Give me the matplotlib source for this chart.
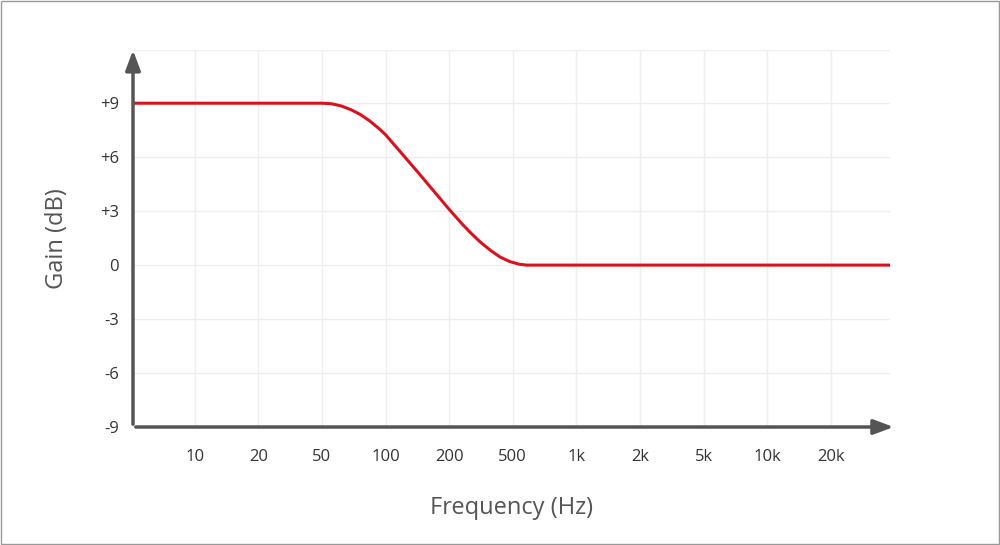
import matplotlib.pyplot as plt

freq_labels = ['10', '20', '50', '100', '200', '500', '1k', '2k', '5k', '10k', '20k']
gain_ticks = [-9, -6, -3, 0, 3, 6, 9]
gain_labels = ['-9', '-6', '-3', '0', '+3', '+6', '+9']

# curve (x in tick-index units)
curve_x = [-0.97, 2.0, 2.15, 2.3, 2.45, 2.6, 2.75, 2.9, 3.0, 3.5, 4.0, 4.2, 4.35, 4.5,
           4.65, 4.8, 4.95, 5.1, 5.22, 10.93]
curve_y = [9, 9, 8.97, 8.85, 8.65, 8.38, 8.02, 7.58, 7.25, 5.2, 3.1, 2.3, 1.75, 1.25,
           0.82, 0.45, 0.2, 0.05, 0, 0]

plt.rcParams['font.family'] = 'Open Sans'
fig = plt.figure(figsize=(10, 5.45), dpi=100)
fig.patches.append(plt.Rectangle((0.001, 0.001), 0.998, 0.998, transform=fig.transFigure,
                                 fill=False, edgecolor='#999999', lw=1))
ax = fig.add_axes([0.133, 0.2165, 0.757, 0.6915])
xmin, xmax = -0.97, 10.93
ymin, ymax = -9, 11.95
ax.set_xlim(xmin, xmax)
ax.set_ylim(ymin, ymax)

for i in range(len(freq_labels)):
    ax.axvline(i, color='#eeeeee', lw=1, zorder=0)
for g in gain_ticks[1:] + [ymax]:
    ax.axhline(g, color='#eeeeee', lw=1, zorder=0)

ax.plot(curve_x, curve_y, color='#d9121f', lw=2.2, zorder=3, solid_joinstyle='round')

for s in ax.spines.values():
    s.set_visible(False)
ax.annotate('', xy=(xmax + 0.1, ymin), xytext=(xmin, ymin), annotation_clip=False,
            arrowprops=dict(arrowstyle='-|>,head_length=1.2,head_width=0.45', color='#555555', lw=2.5))
ax.annotate('', xy=(xmin, ymax + 0.15), xytext=(xmin, ymin), annotation_clip=False,
            arrowprops=dict(arrowstyle='-|>,head_length=1.2,head_width=0.45', color='#555555', lw=2.5))

ax.set_xticks(range(len(freq_labels)))
ax.set_xticklabels(freq_labels)
ax.set_yticks(gain_ticks)
ax.set_yticklabels(gain_labels)
ax.tick_params(length=0, labelsize=12, colors='#333333', pad=16)
ax.tick_params(axis='y', pad=10)
ax.set_xlabel('Frequency (Hz)', fontsize=17, color='#555555', labelpad=22)
ax.set_ylabel('Gain (dB)', fontsize=17, color='#555555', labelpad=22)

fig.savefig('out.png')
